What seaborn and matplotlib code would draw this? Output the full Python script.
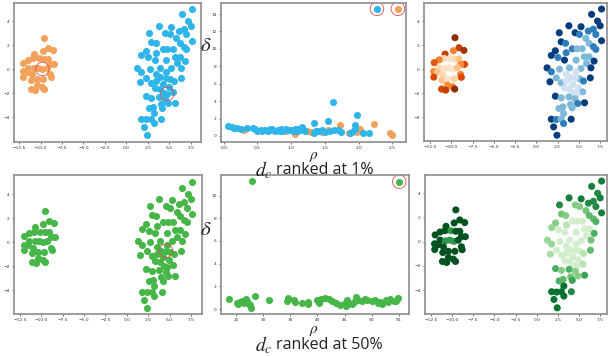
import numpy as np
import matplotlib
matplotlib.use("Agg")
import matplotlib.pyplot as plt
import seaborn as sns

# ---- data ----
# left cluster (orange / first cluster)
left_x = [-9.56, -9.09, -8.51, -9.75, -10.72, -10.83, -11.42, -12.00, -10.14, -9.56, -9.09,
          -8.43, -8.90, -12.07, -11.42, -10.76, -10.26, -9.79, -9.28, -11.60, -12.05, -11.02,
          -8.90, -8.81, -11.10, -10.44, -9.67, -10.44, -9.86, -11.14, -10.64, -9.59]
left_y = [2.62, 1.79, 1.57, 1.54, 1.26, 0.90, 0.79, 0.55, 0.90, 0.85, 0.85,
          0.41, 0.41, -0.18, 0.12, 0.07, 0.12, 0.02, 0.12, -0.25, -0.65, -0.43,
          -0.43, -0.67, -0.90, -0.80, -0.80, -1.31, -1.45, -1.64, -1.73, -1.64]
left_orange_lvl = [0.95, 0.8, 0.9, 0.55, 0.8, 0.2, 0.55, 0.7, 0.15, 0.2, 0.3,
                   0.75, 0.5, 0.5, 0.2, 0.15, 0.15, 0.15, 0.3, 0.3, 0.75, 0.2,
                   0.55, 0.75, 0.3, 0.15, 0.25, 0.5, 0.55, 0.75, 0.8, 0.95]
left_green_lvl = [0.95, 0.95, 0.95, 0.95, 0.95, 0.95, 0.95, 0.95, 0.7, 0.95, 0.95,
                  0.95, 0.95, 0.95, 0.95, 0.7, 0.7, 0.7, 0.95, 0.95, 0.95, 0.95,
                  0.95, 0.95, 0.95, 0.95, 0.95, 0.95, 0.95, 0.95, 0.95, 0.95]

# right cluster (blue / second cluster)
right_x = [7.66, 6.49, 7.19, 7.50, 3.82, 5.25, 2.69, 4.55, 5.06, 6.69, 6.10, 6.99, 5.82, 7.66,
           2.92, 3.43, 6.20, 6.71, 6.99, 4.22, 4.77, 5.39, 2.23, 3.50, 1.76, 2.54, 3.31, 4.67,
           5.64, 6.20, 6.78, 5.89, 1.26, 2.73, 3.89, 5.25, 6.41, 1.76, 4.67, 3.50, 2.34, 3.97,
           5.06, 5.53, 6.34, 1.59, 2.92, 3.50, 4.28, 4.94, 5.45, 4.36, 4.75, 2.23, 2.92, 3.82,
           4.55, 5.66, 4.01, 4.86, 2.65, 3.12, 4.20, 3.20, 1.76, 2.34, 2.92, 4.09, 3.20, 2.03,
           2.42, 4.60, 3.30, 3.90]
right_y = [5.00, 4.56, 4.00, 3.61, 3.61, 3.53, 3.03, 3.03, 2.89, 3.33, 3.17, 2.89, 2.56, 2.37,
           2.28, 2.15, 2.15, 1.87, 1.65, 1.70, 1.70, 1.70, 1.54, 1.37, 1.15, 0.98, 0.76, 0.76,
           1.04, 1.04, 0.68, 0.48, 0.12, 0.01, 0.12, 0.07, 0.12, -0.21, -0.21, -0.40, -0.71, -0.68,
           -0.79, -0.98, -0.71, -1.04, -1.12, -0.98, -1.26, -1.51, -1.87, -1.95, -2.05, -2.23, -2.37, -2.29,
           -2.45, -2.78, -2.92, -2.84, -3.25, -3.12, -3.20, -3.67, -4.14, -4.17, -4.14, -4.14, -4.50, -4.78,
           -5.47, -0.70, -1.55, -1.65]
right_blue_lvl = [0.95, 0.95, 0.95, 0.95, 0.95, 0.95, 0.95, 0.95, 0.7, 0.7, 0.7, 0.7, 0.45, 0.95,
                  0.95, 0.7, 0.45, 0.7, 0.7, 0.7, 0.45, 0.45, 0.95, 0.7, 0.95, 0.7, 0.95, 0.45,
                  0.45, 0.45, 0.95, 0.45, 0.95, 0.45, 0.45, 0.45, 0.95, 0.7, 0.2, 0.2, 0.45, 0.2,
                  0.45, 0.7, 0.95, 0.95, 0.45, 0.2, 0.2, 0.2, 0.45, 0.2, 0.2, 0.95, 0.45, 0.45,
                  0.45, 0.95, 0.45, 0.7, 0.45, 0.45, 0.45, 0.45, 0.95, 0.7, 0.45, 0.95, 0.7, 0.95,
                  0.95, 0.2, 0.2, 0.2]
right_green_lvl = [0.8, 0.8, 0.75, 0.8, 0.8, 0.8, 0.75, 0.45, 0.45, 0.75, 0.75, 0.75, 0.5, 0.8,
                   0.5, 0.45, 0.55, 0.55, 0.6, 0.2, 0.2, 0.2, 0.45, 0.3, 0.4, 0.2, 0.2, 0.2,
                   0.2, 0.2, 0.6, 0.2, 0.4, 0.2, 0.2, 0.2, 0.5, 0.4, 0.2, 0.2, 0.2, 0.2,
                   0.2, 0.3, 0.55, 0.35, 0.2, 0.2, 0.2, 0.2, 0.3, 0.2, 0.2, 0.6, 0.45, 0.6,
                   0.45, 0.65, 0.5, 0.45, 0.6, 0.55, 0.65, 0.85, 0.85, 0.85, 0.85, 0.75, 0.85, 0.85,
                   0.85, 0.2, 0.2, 0.2]

# decision graph, d_c at 1%
rho1_orange = [2.58, 2.22, 1.72, 2.02, 1.97, 2.47, 2.50, 1.55, 1.24, 1.05, 1.07, 0.30, 0.72,
               0.92, 1.45, 1.85, 1.30]
delta1_orange = [14.6, 1.42, 1.27, 0.85, 0.50, 0.40, 0.10, 0.74, 0.62, 0.27, 0.50, 0.74, 0.70,
                 0.55, 0.45, 0.35, 0.50]
rho1_blue = [2.27, 1.62, 1.97, 1.54, 1.34, 1.95, 0.07, 0.12, 0.15, 0.20, 0.25, 0.35, 0.43, 0.46,
             0.49, 0.55, 0.61, 0.65, 0.68, 0.72, 0.76, 0.80, 0.85, 0.88, 0.93, 0.97, 1.00, 1.02,
             1.05, 1.08, 1.10, 1.13, 1.16, 1.33, 1.36, 1.41, 1.46, 1.50, 1.58, 1.63, 1.70, 1.74,
             1.87, 1.90, 2.07, 2.15, 1.95, 0.57, 0.83, 1.20]
delta1_blue = [14.6, 3.85, 2.42, 1.69, 1.50, 1.27, 1.12, 1.02, 0.97, 0.92, 0.85, 0.97, 0.89, 0.75,
               0.62, 0.68, 0.74, 0.62, 0.80, 0.78, 0.62, 0.70, 0.78, 0.60, 0.78, 0.65, 0.74, 0.55,
               0.85, 0.62, 0.85, 0.70, 1.04, 0.39, 0.55, 0.55, 0.66, 0.45, 0.58, 0.66, 0.72, 0.47,
               0.39, 0.45, 0.39, 0.39, 0.80, 0.55, 0.52, 0.60]

# decision graph, d_c at 50%
rho50 = [27.9, 55.1, 23.7, 25.1, 25.4, 25.7, 26.1, 26.5, 27.0, 27.3, 27.5, 27.8, 28.5, 26.8,
         31.1, 34.4, 34.6, 35.6, 35.9, 37.1, 38.2, 38.3, 40.0, 40.3, 40.6, 41.4, 42.2, 42.6,
         43.4, 44.2, 44.9, 45.3, 45.5, 46.4, 46.8, 47.1, 47.5, 48.3, 48.8, 49.2, 50.1, 50.6,
         51.1, 51.5, 52.0, 52.6, 53.0, 53.4, 54.1, 54.5, 54.9]
delta50 = [11.3, 11.23, 0.91, 0.53, 0.45, 0.61, 0.72, 0.55, 0.73, 0.44, 0.35, 0.09, 1.11, 0.85,
           0.79, 0.67, 0.95, 0.79, 0.62, 0.55, 0.47, 0.65, 0.79, 0.55, 0.88, 1.00, 0.88, 0.67,
           0.53, 0.32, 0.47, 0.25, 0.79, 0.47, 0.60, 1.03, 0.82, 0.67, 0.90, 0.79, 0.73, 0.80,
           0.53, 0.65, 0.47, 0.79, 0.60, 0.88, 0.67, 0.75, 0.94]

# circled centres
centers1 = ([-9.79, 4.75], [0.02, -2.05])
centers1_rho = ([2.27, 2.58], [14.6, 14.6])
centers50 = ([4.60], [-0.70])
centers50_rho = ([55.1], [11.23])

ORANGE = "#f4a25b"
BLUE = "#2fb5e9"
GREEN = "#46b649"
RED = "#d9534f"

sns.set_style("white")
plt.rcParams["font.family"] = ["DejaVu Sans"]
plt.rcParams["mathtext.fontset"] = "stix"

W, H = 608, 356
fig = plt.figure(figsize=(W / 100, H / 100), dpi=100)


def box(l, t, r, b):
    return fig.add_axes([l / W, 1 - b / H, (r - l) / W, (b - t) / H])


def style(ax):
    for s in ax.spines.values():
        s.set_color("#8c8c8c")
        s.set_linewidth(1.2)
    ax.tick_params(labelsize=3.2, length=1.5, width=0.5, pad=1.5,
                   colors="#333333", direction="out", bottom=True, left=True)


S = 26
kw = dict(s=S, linewidth=0, legend=False)

# --- top row ---
ax = box(14, 3, 201, 142)
sns.scatterplot(x=left_x, y=left_y, color=ORANGE, ax=ax, **kw)
sns.scatterplot(x=right_x, y=right_y, color=BLUE, ax=ax, **kw)
ax.scatter(centers1[0], centers1[1], s=95, facecolors="none", edgecolors=RED, linewidths=0.6)
ax.set_xlim(-13.1, 8.7)
ax.set_ylim(-6.05, 5.5)
ax.set_xticks(np.arange(-12.5, 8, 2.5))
ax.set_yticks([-4, -2, 0, 2, 4])
style(ax)

ax = box(221, 3, 406, 142)
sns.scatterplot(x=rho1_orange, y=delta1_orange, color=ORANGE, ax=ax, **kw)
sns.scatterplot(x=rho1_blue, y=delta1_blue, color=BLUE, ax=ax, **kw)
ax.scatter(centers1_rho[0], centers1_rho[1], s=95, facecolors="none", edgecolors=RED, linewidths=0.6)
ax.set_xlim(-0.04, 2.7)
ax.set_ylim(-0.69, 15.27)
ax.set_xticks([0, 0.5, 1.0, 1.5, 2.0, 2.5])
ax.set_yticks(range(0, 15, 2))
style(ax)

ax = box(424, 3, 607, 141)
sns.scatterplot(x=left_x, y=left_y, hue=left_orange_lvl, palette="Oranges", hue_norm=(0, 1), ax=ax, **kw)
sns.scatterplot(x=right_x, y=right_y, hue=right_blue_lvl, palette="Blues", hue_norm=(0, 1), ax=ax, **kw)
ax.set_xlim(-13.2, 8.3)
ax.set_ylim(-5.95, 5.5)
ax.set_xticks(np.arange(-12.5, 8, 2.5))
ax.set_yticks([-4, -2, 0, 2, 4])
style(ax)

# --- bottom row ---
ax = box(14, 175, 202, 314)
sns.scatterplot(x=left_x + right_x, y=left_y + right_y, color=GREEN, ax=ax, **kw)
ax.scatter(centers50[0], centers50[1], s=95, facecolors="none", edgecolors=RED, linewidths=0.6)
ax.set_xlim(-13.2, 8.8)
ax.set_ylim(-5.96, 5.6)
ax.set_xticks(np.arange(-12.5, 8, 2.5))
ax.set_yticks([-4, -2, 0, 2, 4])
style(ax)

ax = box(221, 175, 409, 314)
sns.scatterplot(x=rho50, y=delta50, color=GREEN, ax=ax, **kw)
ax.scatter(centers50_rho[0], centers50_rho[1], s=95, facecolors="none", edgecolors=RED, linewidths=0.6)
ax.set_xlim(22.2, 56.9)
ax.set_ylim(-0.44, 11.82)
ax.set_xticks(range(25, 56, 5))
ax.set_yticks(range(0, 11, 2))
style(ax)

ax = box(425, 175, 607, 314)
sns.scatterplot(x=left_x + right_x, y=left_y + right_y, hue=left_green_lvl + right_green_lvl,
                palette="Greens", hue_norm=(0, 1), ax=ax, **kw)
ax.set_xlim(-13.2, 8.3)
ax.set_ylim(-5.98, 5.5)
ax.set_xticks(np.arange(-12.5, 8, 2.5))
ax.set_yticks([-4, -2, 0, 2, 4])
style(ax)

# --- labels pasted around the decision graphs ---
for yy in (45, 229):
    fig.text(206 / W, 1 - yy / H, r"$\delta$", fontsize=15, ha="center", va="center", color="#222222")
for yy in (156, 330):
    fig.text(314 / W, 1 - yy / H, r"$\rho$", fontsize=11, ha="center", va="center", color="#222222")
for yy, pct in ((170, "1%"), (345, "50%")):
    fig.text(273 / W, 1 - yy / H, r"$d_c$", fontsize=14, ha="right", va="center", color="#222222")
    fig.text(276 / W, 1 - yy / H, "ranked at " + pct, fontsize=11.5, ha="left", va="center",
             family="Open Sans", color="#222222")

fig.savefig("out.png", dpi=100)
